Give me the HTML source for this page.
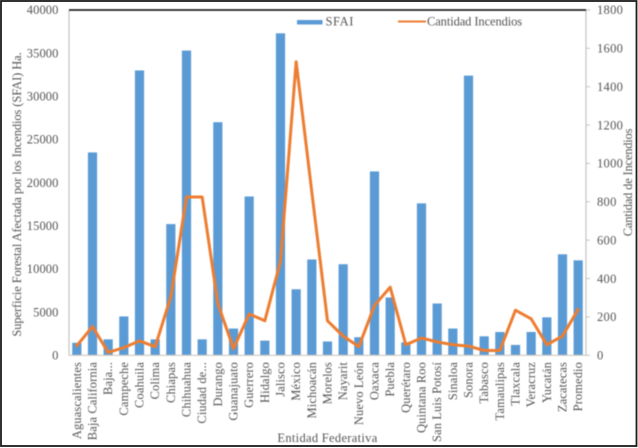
<!DOCTYPE html>
<html lang="es">
<head>
<meta charset="utf-8">
<title>SFAI y Cantidad de Incendios</title>
<style>
html,body{margin:0;padding:0;background:#fff;width:638px;height:448px;overflow:hidden}
svg{display:block}
text{font-family:"Liberation Serif",serif;fill:#555;font-size:12.5px}
</style>
</head>
<body>
<svg id="chart" xmlns="http://www.w3.org/2000/svg" width="638" height="448" viewBox="0 0 638 448">
<rect x="1" y="1" width="635.5" height="445" fill="#fff" stroke="#1c1c1c" stroke-width="1.8"/>
<g id="plot" style="filter:blur(0.4px)"></g>
</svg>
<script>
const categories = ["Aguascalientes","Baja California","Baja...","Campeche","Coahuila","Colima","Chiapas","Chihuahua","Ciudad de...","Durango","Guanajuato","Guerrero","Hidalgo","Jalisco","México","Michoacán","Morelos","Nayarit","Nuevo León","Oaxaca","Puebla","Querétaro","Quintana Roo","San Luis Potosí","Sinaloa","Sonora","Tabasco","Tamaulipas","Tlaxcala","Veracruz","Yucatán","Zacatecas","Promedio"];
const sfaiValues = [1450,23500,1850,4500,33000,1850,15200,35300,1850,27000,3100,18400,1700,37300,7650,11100,1600,10550,2100,21300,6700,1500,17600,6000,3100,32400,2200,2700,1200,2700,4400,11700,11000];
const incendiosValues = [50,150,15,40,75,45,305,825,825,270,35,215,180,490,1530,850,180,100,45,260,355,55,90,70,55,48,25,25,235,190,55,100,240];
const leftTicks = [0,5000,10000,15000,20000,25000,30000,35000,40000];
const rightTicks = [0,200,400,600,800,1000,1200,1400,1600,1800];
const seriesNames = ["SFAI","Cantidad Incendios"];
const leftAxisTitle = "Superficie Forestal Afectada por los Incendios (SFAI) Ha.";
const rightAxisTitle = "Cantidad de Incendios";
const xAxisTitle = "Entidad Federativa";

const NS = "http://www.w3.org/2000/svg";
const plot = document.getElementById("plot");
const box = {left:69, right:586, top:10, bottom:355.3};
const leftMax = 40000, rightMax = 1800;
const slot = (box.right - box.left) / categories.length;
const xScale = i => box.left + slot * (i + 0.5);
const yLeft = v => box.bottom - (v / leftMax) * (box.bottom - box.top);
const yRight = v => box.bottom - (v / rightMax) * (box.bottom - box.top);

function make(tag, attrs, text) {
  const el = document.createElementNS(NS, tag);
  for (const k in attrs) el.setAttribute(k, attrs[k]);
  if (text !== undefined) el.textContent = text;
  plot.appendChild(el);
  return el;
}

let el;

el = make("line", {x1:box.left, y1:box.top, x2:box.left, y2:box.bottom, stroke:"#c4c4c4", "stroke-width":1.2});



el = make("line", {x1:box.right, y1:box.top, x2:box.right, y2:box.bottom, stroke:"#c4c4c4", "stroke-width":1.2});



el = make("line", {x1:box.left, y1:box.top, x2:box.right, y2:box.top, stroke:"#000", "stroke-width":1.5});



sfaiValues.forEach((v, i) => {
  const w = 9.2;
  const bar = make("rect", {x:xScale(i) - w / 2, y:yLeft(v), width:w, height:box.bottom - yLeft(v), fill:"#5b9bd5"});
  
  
});

el = make("line", {x1:box.left, y1:box.bottom, x2:box.right, y2:box.bottom, stroke:"#d2c8c0", "stroke-width":1.2});



const linePoints = incendiosValues.map((v, i) => xScale(i) + "," + yRight(v)).join(" ");
el = make("polyline", {points:linePoints, fill:"none", stroke:"#ed7d31", "stroke-width":3, "stroke-linejoin":"round", "stroke-linecap":"round"});



leftTicks.forEach(t => {
  const label = make("text", {x:58.5, y:yLeft(t) + 4.2, "text-anchor":"end", "letter-spacing":"0.1"}, String(t));
  
  
});

rightTicks.forEach(t => {
  const mark = make("line", {x1:box.right, y1:yRight(t), x2:box.right + 4, y2:yRight(t), stroke:"#c4c4c4", "stroke-width":1});
  
  
  const label = make("text", {x:597, y:yRight(t) + 4.2, "letter-spacing":"0.3"}, String(t));
  
  
});

categories.forEach((c, i) => {
  const x = xScale(i) + 4;
  const label = make("text", {x:x, y:362, "text-anchor":"end", transform:"rotate(-90 " + x + " 362)", "letter-spacing":"0.1"}, c);
  
  
});

el = make("text", {x:21, y:194.5, "text-anchor":"middle", transform:"rotate(-90 21 194.5)", "letter-spacing":"-0.1"}, leftAxisTitle);



el = make("text", {x:632, y:182.5, "text-anchor":"middle", transform:"rotate(-90 632 182.5)", "letter-spacing":"-0.2"}, rightAxisTitle);



el = make("text", {x:327.5, y:442, "text-anchor":"middle", "letter-spacing":"0.3"}, xAxisTitle);



el = make("rect", {x:297, y:20, width:25.5, height:4.5, fill:"#5b9bd5"});



el = make("text", {x:325.5, y:25.5, "letter-spacing":"0.6"}, seriesNames[0]);



el = make("line", {x1:398, y1:21.5, x2:426, y2:21.5, stroke:"#ed7d31", "stroke-width":2});



el = make("text", {x:427, y:25.5, "letter-spacing":"-0.1"}, seriesNames[1]);


</script>
</body>
</html>
